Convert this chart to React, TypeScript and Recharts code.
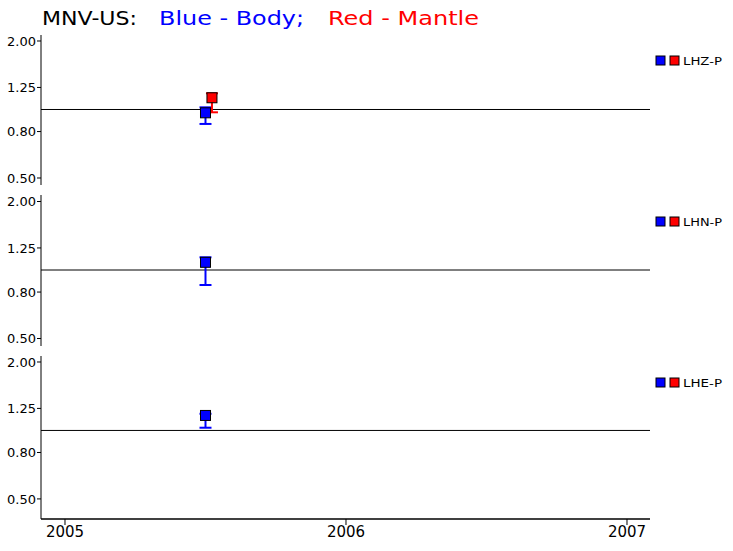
import React from 'react';
import { ComposedChart, Scatter, XAxis, YAxis, ReferenceLine, ErrorBar } from 'recharts';

// ---- data ----
const yearTicks = [2005, 2006, 2007];
const yTicks = [0.5, 0.8, 1.25, 2.0];
const channels = ['LHZ-P', 'LHN-P', 'LHE-P'];

const bodyDates = [2005.5, 2005.5, 2005.5];
const bodyValues = [0.967, 1.081, 1.164];
const bodyLow = [0.864, 0.859, 1.028];
const bodyHigh = [1.022, 1.137, 1.184];

const mantleDates: (number | null)[] = [2005.523, null, null];
const mantleValues: (number | null)[] = [1.126, null, null];
const mantleLow: (number | null)[] = [0.972, null, null];
const mantleHigh: (number | null)[] = [1.178, null, null];

const BLUE = '#0000ff';
const RED = '#ff0000';
const FONT = 'DejaVu Sans, sans-serif';

const xDomain: [number, number] = [2004.9146, 2007.0819];

// panel geometry (layout only)
const panels = [
  { top: 35, plotH: 150, domain: [0.4658, 2.125] as [number, number], showX: false },
  { top: 195, plotH: 151, domain: [0.4635, 2.136] as [number, number], showX: false },
  { top: 356, plotH: 163, domain: [0.408, 2.125] as [number, number], showX: true },
];

const Square = (props: any) => {
  const { cx, cy, fill } = props;
  if (cx == null || cy == null) return null;
  return <rect x={cx - 5} y={cy - 5} width={10} height={10} fill={fill} stroke="#000" strokeWidth={1} />;
};

function buildSeries(i: number, dates: (number | null)[], vals: (number | null)[], lo: (number | null)[], hi: (number | null)[]) {
  const d = dates[i], v = vals[i], l = lo[i], h = hi[i];
  if (d == null || v == null || l == null || h == null) return [];
  return [{ x: d, y: v, err: [v - l, h - v] }];
}

const Panel = ({ idx }: { idx: number }) => {
  const p = panels[idx];
  const body = buildSeries(idx, bodyDates, bodyValues, bodyLow, bodyHigh);
  const mantle = buildSeries(idx, mantleDates, mantleValues, mantleLow, mantleHigh);
  const xH = p.showX ? 32 : 0;
  return (
    <div style={{ position: 'absolute', left: 0, top: p.top }}>
      <ComposedChart width={733} height={p.plotH + xH} margin={{ top: 0, right: 83, bottom: 0, left: 0 }}>
        <XAxis
          type="number"
          dataKey="x"
          domain={xDomain}
          allowDataOverflow
          ticks={yearTicks}
          hide={!p.showX}
          height={xH}
          tickSize={6}
          tickMargin={1}
          stroke="#000"
          tickLine={{ stroke: '#000' }}
          axisLine={{ stroke: '#000', strokeWidth: 1.5 }}
          tick={{ fill: '#000', fontSize: 15, fontFamily: FONT }}
          interval={0}
        />
        <YAxis
          type="number"
          dataKey="y"
          scale="log"
          domain={p.domain}
          allowDataOverflow
          ticks={yTicks}
          interval={0}
          width={41}
          tickSize={4}
          tickMargin={1}
          tickFormatter={(v: number) => v.toFixed(2)}
          stroke="#000"
          tickLine={{ stroke: '#000' }}
          axisLine={{ stroke: '#000' }}
          tick={{ fill: '#000', fontSize: 13, fontFamily: FONT }}
        />
        <ReferenceLine y={1} stroke="#000" strokeWidth={1} ifOverflow="extendDomain" />
        <Scatter data={body} dataKey="y" fill={BLUE} shape={Square} isAnimationActive={false}>
          <ErrorBar dataKey="err" direction="y" width={6} stroke={BLUE} strokeWidth={2} isAnimationActive={false} />
        </Scatter>
        {mantle.length > 0 && (
          <Scatter data={mantle} dataKey="y" fill={RED} shape={Square} isAnimationActive={false}>
            <ErrorBar dataKey="err" direction="y" width={6} stroke={RED} strokeWidth={2} isAnimationActive={false} />
          </Scatter>
        )}
      </ComposedChart>
    </div>
  );
};

export default function App() {
  return (
    <div style={{ position: 'absolute', left: 0, top: 0, width: 733, height: 551, background: '#fff', overflow: 'hidden' }}>
      {panels.map((_, i) => (
        <Panel key={i} idx={i} />
      ))}
      <svg width={733} height={551} style={{ position: 'absolute', left: 0, top: 0, pointerEvents: 'none' }}>
        <text x={42} y={25} fontSize={20} fontFamily={FONT} fill="#000" textLength={95} lengthAdjust="spacingAndGlyphs">MNV-US:</text>
        <text x={159} y={25} fontSize={20} fontFamily={FONT} fill={BLUE} textLength={145} lengthAdjust="spacingAndGlyphs">Blue - Body;</text>
        <text x={328} y={25} fontSize={20} fontFamily={FONT} fill={RED} textLength={151} lengthAdjust="spacingAndGlyphs">Red - Mantle</text>
        {channels.map((c, i) => (
          <g key={c} transform={`translate(0, ${161 * i})`}>
            <rect x={656} y={56} width={9} height={9} fill={BLUE} stroke="#000" strokeWidth={1} />
            <rect x={670} y={56} width={9} height={9} fill={RED} stroke="#000" strokeWidth={1} />
            <text x={683} y={65} fontSize={11} fontFamily={FONT} fill="#000" textLength={39} lengthAdjust="spacingAndGlyphs">{c}</text>
          </g>
        ))}
      </svg>
    </div>
  );
}
